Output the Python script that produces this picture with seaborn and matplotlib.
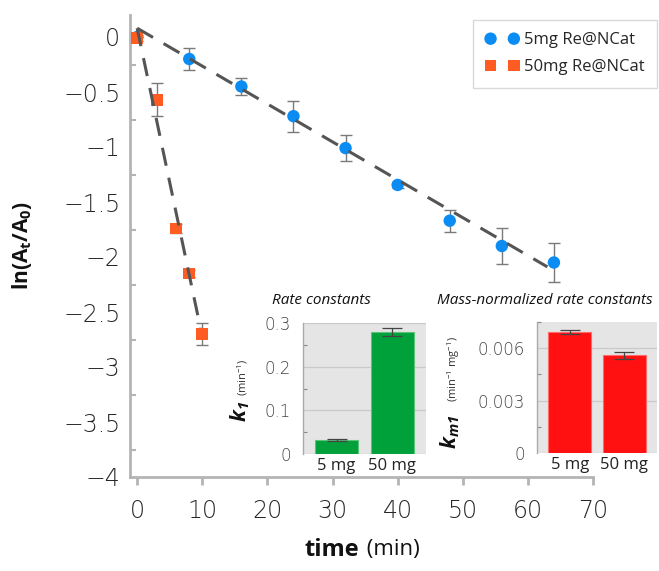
import matplotlib
matplotlib.use('Agg')

import pandas as pd
import seaborn as sns
import matplotlib.pyplot as plt

# ln(At/A0) vs time
time_5mg = [0, 8, 16, 24, 32, 40, 48, 56, 64]
lnA_5mg = [0.0, -0.2, -0.45, -0.72, -1.01, -1.345, -1.67, -1.9, -2.05]
err_5mg = [0.0, 0.1, 0.08, 0.14, 0.12, 0.03, 0.1, 0.16, 0.18]

time_50mg = [0, 3, 6, 8, 10]
lnA_50mg = [-0.01, -0.57, -1.74, -2.15, -2.7]
err_50mg = [0.03, 0.15, 0.04, 0.03, 0.1]

# dashed linear fits
fit_time_5mg = [0, 63]
fit_lnA_5mg = [0.08, -2.09]
fit_time_50mg = [0, 9.7]
fit_lnA_50mg = [0.08, -2.64]

# inset bars
doses = ['5 mg', '50 mg']
k1 = [0.032, 0.279]
k1_err = [0.002, 0.009]
km1 = [0.00692, 0.0056]
km1_err = [0.0001, 0.0002]

y_ticks = [0, -0.5, -1, -1.5, -2, -2.5, -3, -3.5, -4]
y_ticklabels = ['0', '\u22120.5', '\u22121', '\u22121.5', '\u22122', '\u22122.5', '\u22123', '\u22123.5', '\u22124']
x_ticks = [0, 10, 20, 30, 40, 50, 60, 70]

BLUE = '#0b8cf2'
ORANGE = '#ff5c24'
GREEN = '#00a13b'
RED = '#ff1111'
SPINE = '#b4b4b4'

sns.set_style('white')
plt.rcParams['font.family'] = ['Open Sans', 'DejaVu Sans']
plt.rcParams['mathtext.default'] = 'regular'

W, H = 659, 571
fig = plt.figure(figsize=(W / 100, H / 100), dpi=100)


def fx(px):
    return px / W


def fy(py):
    return 1 - py / H


num_font = dict(family=['DejaVu Sans'], weight='light')

# ---- main kinetics plot
ax = fig.add_axes([fx(130), fy(477), fx(593) - fx(130), fy(15) - fy(477)])

ax.errorbar(time_5mg, lnA_5mg, yerr=err_5mg, fmt='none', ecolor='#7a7a7a',
            elinewidth=1, capsize=4, capthick=1, zorder=2)
ax.errorbar(time_50mg, lnA_50mg, yerr=err_50mg, fmt='none', ecolor='#7a7a7a',
            elinewidth=1, capsize=4, capthick=1, zorder=2)

sns.scatterplot(x=time_5mg, y=lnA_5mg, marker='o', s=80, color=BLUE,
                edgecolor='none', label='5mg Re@NCat', ax=ax, zorder=3)
sns.scatterplot(x=time_50mg, y=lnA_50mg, marker='s', s=70, color=ORANGE,
                edgecolor='none', label='50mg Re@NCat', ax=ax, zorder=3)

sns.lineplot(x=fit_time_5mg, y=fit_lnA_5mg, color='#555555', lw=2.2,
             dashes=False, ax=ax, zorder=4).lines[-1].set_dashes([6, 4])
sns.lineplot(x=fit_time_50mg, y=fit_lnA_50mg, color='#555555', lw=2.2,
             dashes=False, ax=ax, zorder=4).lines[-1].set_dashes([6, 4])

ax.set_xlim(-1.1, 70)
ax.set_ylim(-4, 0.2)
for side in ['top', 'right']:
    ax.spines[side].set_visible(False)
for side in ['left', 'bottom']:
    ax.spines[side].set_color(SPINE)
    ax.spines[side].set_linewidth(2)

ax.set_xticks(x_ticks)
ax.set_xticklabels([str(t) for t in x_ticks], fontsize=17, color='#262626', **num_font)
ax.set_yticks(y_ticks)
ax.set_yticklabels(y_ticklabels, fontsize=17, color='#262626', **num_font)
ax.set_yticks([-0.25, -0.75, -1.25, -1.75, -2.25, -2.75, -3.25, -3.75], minor=True)
ax.tick_params(axis='x', which='major', direction='out', length=6, width=2,
               color=SPINE, pad=10, bottom=True)
ax.tick_params(axis='y', which='major', length=0, pad=7)
ax.tick_params(axis='y', which='minor', direction='in', length=4, width=1.5,
               color=SPINE, left=True)
ax.set_xlabel('')
ax.set_ylabel('')

leg = ax.legend(scatterpoints=2, loc='upper right',
                bbox_to_anchor=(fx(657), fy(20)), bbox_transform=fig.transFigure,
                borderaxespad=0, frameon=True, fancybox=False, fontsize=12,
                handletextpad=0.3, labelspacing=0.65, borderpad=0.75,
                scatteryoffsets=[0.5])
leg.get_frame().set_edgecolor('#d0d0d0')
leg.get_frame().set_linewidth(1)

fig.text(fx(22), fy(245), 'ln(A$_t$/A$_0$)', rotation=90, ha='center', va='center',
         fontsize=15, fontweight='bold', color='#111111')
fig.text(fx(359), fy(550), 'time', ha='right', va='center', fontsize=17,
         fontweight='bold', color='#111111')
fig.text(fx(361), fy(550), ' (min)', ha='left', va='center', fontsize=16,
         color='#111111')


# ---- insets
def bar_inset(rect, values, errors, color, edge, ylim, ticks, ticklabels, minor):
    bx = fig.add_axes(rect)
    bx.set_facecolor('#e5e5e5')
    df = pd.DataFrame({'dose': doses, 'value': values})
    sns.barplot(data=df, x='dose', y='value', color=color, saturation=1,
                width=0.78, errorbar=None, edgecolor=edge, linewidth=0.8,
                ax=bx, zorder=2)
    bx.errorbar([0, 1], values, yerr=errors, fmt='none', ecolor='#444444',
                elinewidth=0.9, capsize=7, capthick=0.9, zorder=3)
    bx.set_xlim(-0.6, 1.6)
    bx.set_ylim(*ylim)
    bx.set_yticks(ticks)
    bx.set_yticklabels(ticklabels, fontsize=12, color='#444444', **num_font)
    bx.set_yticks(minor, minor=True)
    bx.grid(axis='y', which='major', color='#c9c9c9', lw=0.9, zorder=0)
    bx.set_axisbelow(True)
    for side in ['top', 'right', 'bottom']:
        bx.spines[side].set_visible(False)
    bx.spines['left'].set_color('#aaaaaa')
    bx.spines['left'].set_linewidth(1)
    bx.tick_params(axis='y', which='major', length=0, pad=9)
    bx.tick_params(axis='y', which='minor', direction='in', length=3, width=0.8,
                   color='#888888', left=True)
    bx.tick_params(axis='x', length=0, pad=3, labelsize=12, colors='#222222')
    bx.set_xlabel('')
    bx.set_ylabel('')
    return bx


bar_inset([fx(303), fy(454), fx(426) - fx(303), fy(323) - fy(454)],
          k1, k1_err, GREEN, '#5cc27a', (0, 0.3),
          [0, 0.1, 0.2, 0.3], ['0', '0.1', '0.2', '0.3'], [0.05, 0.15, 0.25])
bar_inset([fx(537), fy(453), fx(657) - fx(537), fy(322) - fy(453)],
          km1, km1_err, RED, '#ff6a6a', (0, 0.0075),
          [0, 0.003, 0.006], ['0', '0.003', '0.006'], [0.0015, 0.0045, 0.0075])

fig.text(fx(272), fy(300), 'Rate constants', ha='left', va='center', fontsize=11,
         style='italic', color='#111111')
fig.text(fx(437), fy(300), 'Mass-normalized rate constants', ha='left', va='center',
         fontsize=11, style='italic', color='#111111')

fig.text(fx(240), fy(411), 'k$_1$', rotation=90, ha='center', va='center',
         fontsize=15, fontweight='bold', style='italic', color='#111111')
fig.text(fx(243), fy(377), '(min$^{-1}$)', rotation=90, ha='center', va='center',
         fontsize=8, color='#333333')
fig.text(fx(450), fy(432), 'k$_{m1}$', rotation=90, ha='center', va='center',
         fontsize=15, fontweight='bold', style='italic', color='#111111')
fig.text(fx(454), fy(369), '(min$^{-1}$ mg$^{-1}$)', rotation=90, ha='center',
         va='center', fontsize=8, color='#333333')

plt.savefig('out.png', dpi=100)
